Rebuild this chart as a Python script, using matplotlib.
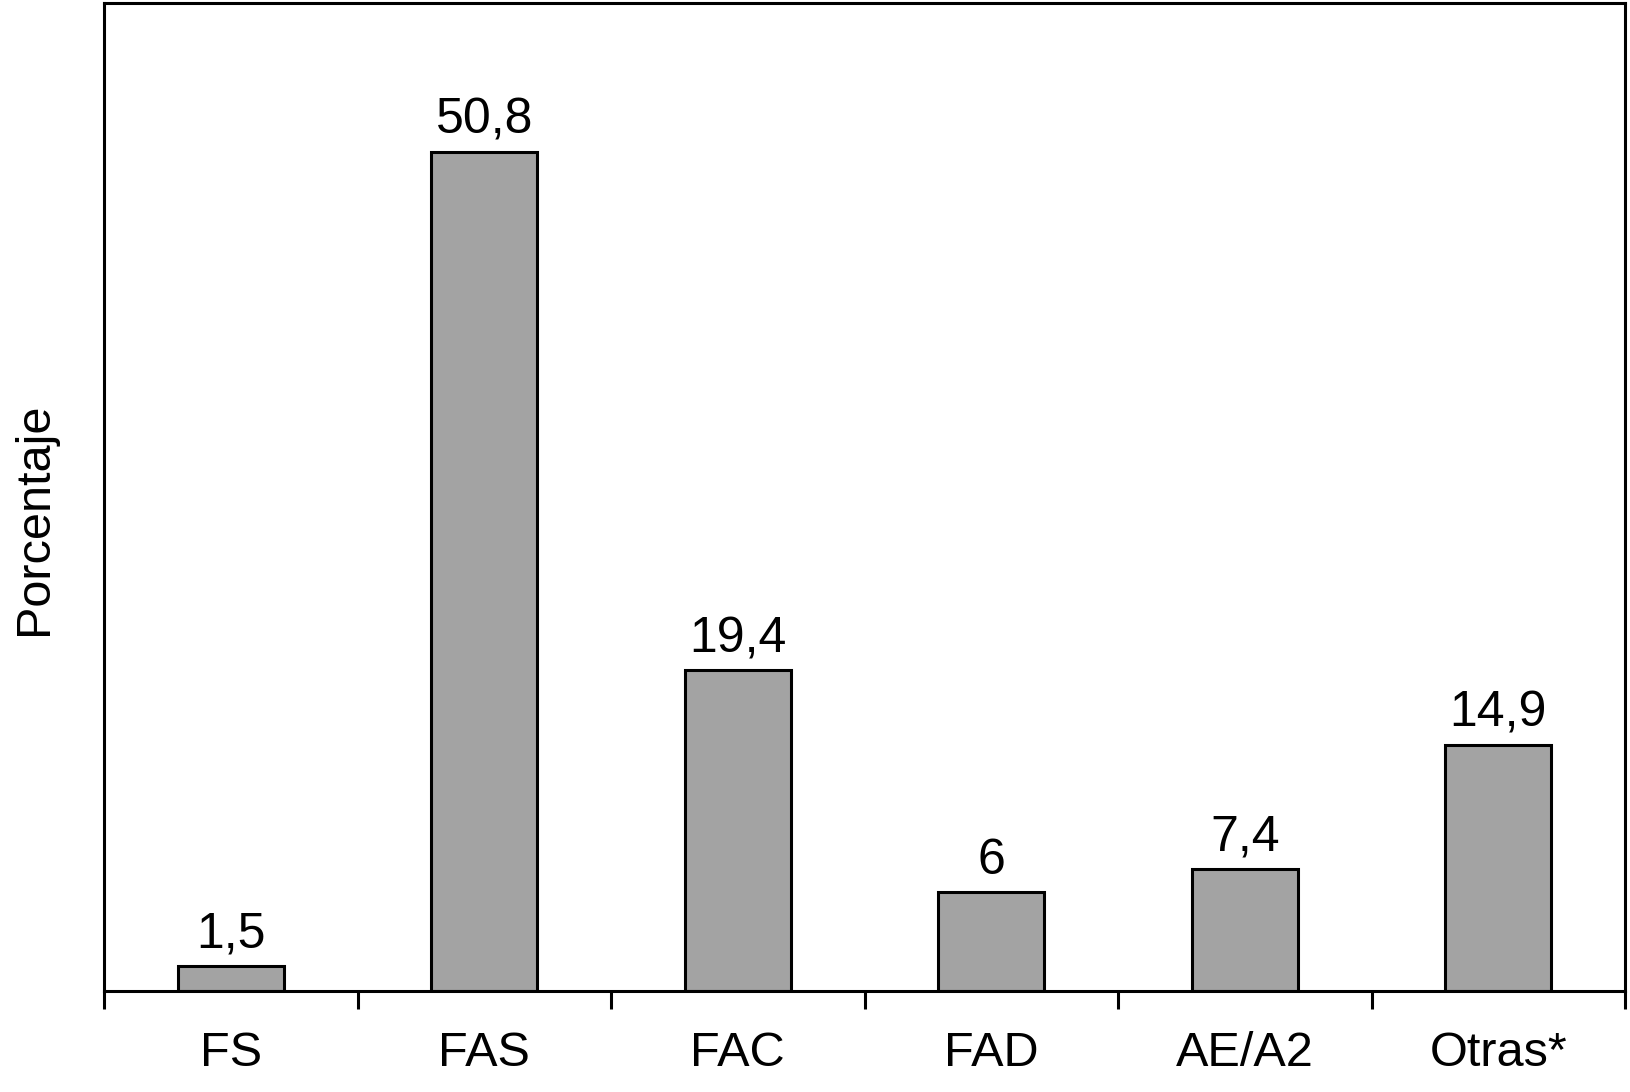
import matplotlib.pyplot as plt
import numpy as np

plt.rcParams['font.family'] = ['Liberation Sans', 'DejaVu Sans']

categorias = ['FS', 'FAS', 'FAC', 'FAD', 'AE/A2', 'Otras*']
porcentajes = [1.5, 50.8, 19.4, 6, 7.4, 14.9]
etiquetas = [f"{v:g}".replace('.', ',') for v in porcentajes]

fig = plt.figure(figsize=(16.3, 10.92), dpi=100)
ax = fig.add_axes([104 / 1630, 1 - 991 / 1092, 1521 / 1630, 988 / 1092])

x = np.arange(len(categorias))
barras = ax.bar(x, porcentajes, width=0.42, color='#a3a3a3',
                edgecolor='black', linewidth=2.2)
ax.bar_label(barras, labels=etiquetas, padding=6, fontsize=36)

ax.set_xlim(-0.5, len(categorias) - 0.5)
ax.set_ylim(0, 59.8)

# etiquetas centradas, marcas entre grupos
ax.set_xticks(x)
ax.set_xticklabels(categorias, fontsize=35)
ax.tick_params(axis='x', which='major', length=0, pad=29)
ax.set_xticks(np.arange(-0.5, len(categorias)), minor=True)
ax.tick_params(axis='x', which='minor', length=13, width=2.2, direction='out')
ax.set_yticks([])

for s in ax.spines.values():
    s.set_linewidth(2.2)

ax.set_ylabel('Porcentaje', fontsize=35, va='center')
ax.yaxis.set_label_coords(-0.046, 0.478)

fig.savefig('out.png', dpi=100)
